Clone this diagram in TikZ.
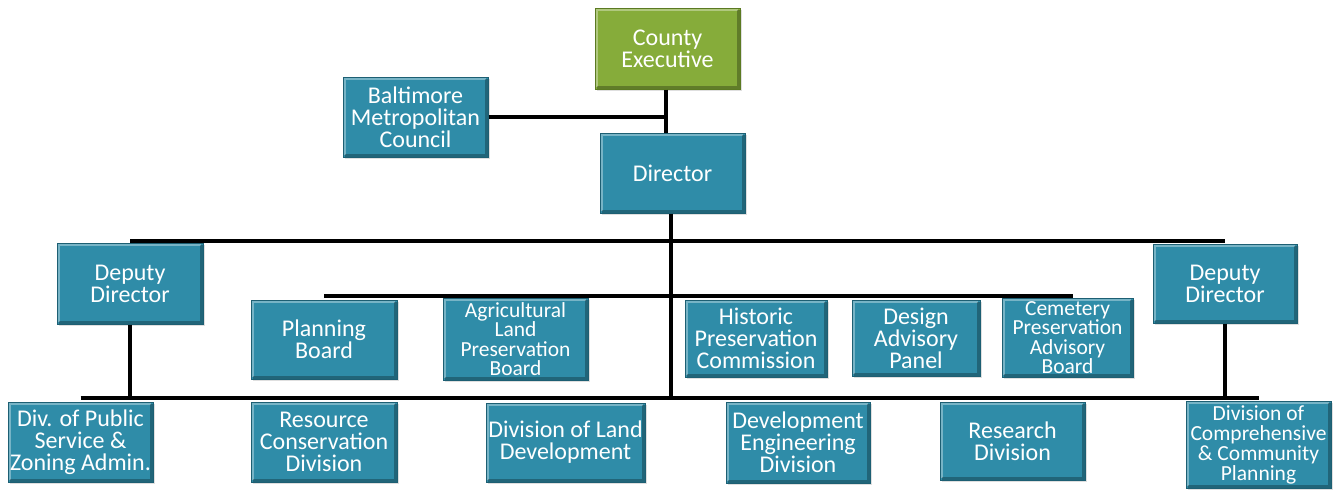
\documentclass[tikz,border=0pt]{standalone}
\usepackage{fontspec}
\setmainfont{Carlito}
\usetikzlibrary{shadows}
\definecolor{tealfill}{HTML}{2F8CA8}
\definecolor{tealedge}{HTML}{1D5F73}
\definecolor{greenfill}{HTML}{86AC3A}
\definecolor{greenedge}{HTML}{5B7A22}
\begin{document}
\begin{tikzpicture}[x=1pt,y=-1pt,
  bevel/.style={path picture={
    \draw[white,opacity=0.35,line width=2.2pt]
      ([xshift=1.6pt,yshift=1.6pt]path picture bounding box.south west) |-
      ([xshift=-1.6pt,yshift=-1.6pt]path picture bounding box.north east);
    \draw[black,opacity=0.28,line width=2.2pt]
      ([xshift=1.6pt,yshift=1.6pt]path picture bounding box.south west) -|
      ([xshift=-1.6pt,yshift=-1.6pt]path picture bounding box.north east);}},
  box/.style={draw=tealedge, line width=1pt, fill=tealfill, text=white,
    align=center, inner sep=0pt, bevel,
    font=\fontsize{24}{22}\selectfont,
    drop shadow={opacity=0.25, shadow xshift=1.5pt, shadow yshift=-2pt}},
  gbox/.style={box, fill=greenfill, draw=greenedge},
  tight/.style={font=\fontsize{21.5}{19.5}\selectfont},
  semitight/.style={font=\fontsize{21.5}{20}\selectfont},
  conn/.style={line width=3.2pt, black}
]
\useasboundingbox (0,0) rectangle (1335,491);

% top
\node[gbox, minimum width=145pt, minimum height=81pt] (ce) at (667.5,48.5) {County\\Executive};
\node[box, minimum width=145pt, minimum height=80pt] (bmc) at (415.5,117) {Baltimore\\Metropolitan\\Council};
\node[box, minimum width=145pt, minimum height=80pt] (dir) at (672.5,173) {Director};

% deputies
\node[box, minimum width=146pt, minimum height=81pt] (dd1) at (130,283.5) {Deputy\\Director};
\node[box, minimum width=144pt, minimum height=79pt] (dd2) at (1225,283.5) {Deputy\\Director};

% boards
\node[box, minimum width=146pt, minimum height=79pt] (pb) at (324,339.5) {Planning\\Board};
\node[box, tight, minimum width=145pt, minimum height=82pt] (alpb) at (515.5,339) {Agricultural\\Land\\Preservation\\Board};
\node[box, minimum width=142pt, minimum height=77pt] (hpc) at (756,338.5) {Historic\\Preservation\\Commission};
\node[box, minimum width=128pt, minimum height=76pt] (dap) at (916,338) {Design\\Advisory\\Panel};
\node[box, tight, minimum width=131pt, minimum height=79pt] (cpab) at (1067.5,337.5) {Cemetery\\Preservation\\Advisory\\Board};

% divisions
\node[box, minimum width=145pt, minimum height=80pt] (dps) at (80.5,442) {Div. of Public\\Service \&\\Zoning Admin.};
\node[box, minimum width=146pt, minimum height=80pt] (rcd) at (324,442) {Resource\\Conservation\\Division};
\node[box, minimum width=159pt, minimum height=79pt] (dld) at (565.5,442.5) {Division of Land\\Development};
\node[box, minimum width=144pt, minimum height=81pt] (ded) at (798,442.5) {Development\\Engineering\\Division};
\node[box, minimum width=145pt, minimum height=78pt] (rd) at (1012.5,441) {Research\\Division};
\node[box, semitight, minimum width=145pt, minimum height=87pt] (dccp) at (1258.5,444.5) {Division of\\Comprehensive\\\& Community\\Planning};

% junction coordinates
\coordinate (jtop) at (666,117);
\coordinate (b1) at (671,241);
\coordinate (b2) at (671,296);
\coordinate (b3) at (671,398);

% connectors
\draw[conn] (ce.south -| jtop) -- (dir.north -| jtop);
\draw[conn] (bmc.east) -- (jtop);
\draw[conn] (dir.south -| b1) -- (b3);
\draw[conn] (dd1.center |- b1) -- (dd2.center |- b1);
\draw[conn] (pb.center |- b2) -- ([xshift=5pt]cpab.center |- b2);
\draw[conn] (dps.center |- b3) -- (dccp.center |- b3);
\draw[conn] (dd1.south) -- (dd1.south |- b3);
\draw[conn] (dd2.south) -- (dd2.south |- b3);
\end{tikzpicture}
\end{document}
